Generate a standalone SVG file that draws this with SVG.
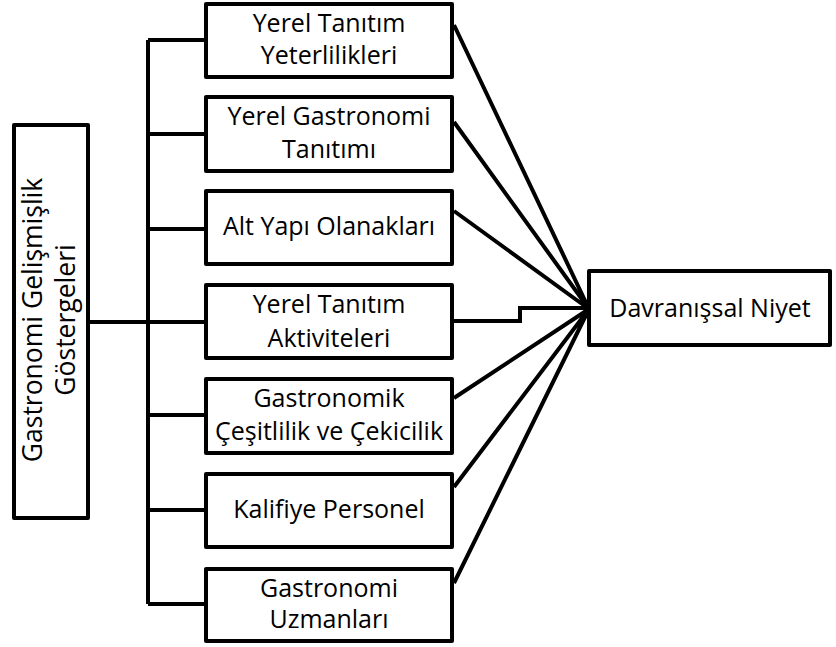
<svg xmlns="http://www.w3.org/2000/svg" width="836" height="647" viewBox="0 0 836 647">
<style>
.box{fill:#fff;stroke:#000;stroke-width:4;stroke-linejoin:round}
.ln{fill:none;stroke:#000;stroke-width:4;stroke-linejoin:miter}
text{font-family:"Open Sans","Noto Sans",sans-serif;font-size:25px;fill:#000;text-anchor:middle}
.big{font-size:26.5px}
</style>
<rect width="836" height="647" fill="#fff"/>
<g id="connectors">
<path class="ln" d="M88,322 H148"/>
<path class="ln" d="M148,40 V604"/>
<path class="ln" d="M148,40 H206 M148,134 H206 M148,229 H206 M148,322 H206 M148,415 H206 M148,510 H206 M148,604 H206"/>
<path class="ln" d="M454,25 L589,309 M454,122 L589,309 M454,211 L589,309 M454,398 L589,309 M454,487 L589,309 M454,583 L589,309"/>
<path class="ln" d="M452,321 H520 V308 H589"/>
</g>
<g id="n0">
<rect class="box" x="14" y="125" width="74" height="393"/>
<text class="big" transform="translate(51,320) rotate(-90)"><tspan x="0" y="-9">Gastronomi Gelişmişlik</tspan><tspan x="0" y="24">Göstergeleri</tspan></text>
</g>
<g id="n1">
<rect class="box" x="206" y="4" width="246" height="73"/>
<text x="329" y="32">Yerel Tanıtım</text><text x="329" y="64">Yeterlilikleri</text>
</g>
<g id="n2">
<rect class="box" x="206" y="97" width="246" height="74"/>
<text x="329" y="125">Yerel Gastronomi</text><text x="329" y="158">Tanıtımı</text>
</g>
<g id="n3">
<rect class="box" x="206" y="191" width="246" height="73"/>
<text x="329" y="235">Alt Yapı Olanakları</text>
</g>
<g id="n4">
<rect class="box" x="206" y="285" width="246" height="73"/>
<text x="329" y="313">Yerel Tanıtım</text><text x="329" y="347">Aktiviteleri</text>
</g>
<g id="n5">
<rect class="box" x="206" y="379" width="246" height="74"/>
<text x="329" y="407">Gastronomik</text><text x="329" y="440">Çeşitlilik ve Çekicilik</text>
</g>
<g id="n6">
<rect class="box" x="206" y="474" width="246" height="73"/>
<text x="329" y="518">Kalifiye Personel</text>
</g>
<g id="n7">
<rect class="box" x="206" y="569" width="246" height="72"/>
<text x="329" y="597">Gastronomi</text><text x="329" y="628">Uzmanları</text>
</g>
<g id="n8">
<rect class="box" x="589" y="271" width="241" height="74"/>
<text x="710" y="317">Davranışsal Niyet</text>
</g>
</svg>
